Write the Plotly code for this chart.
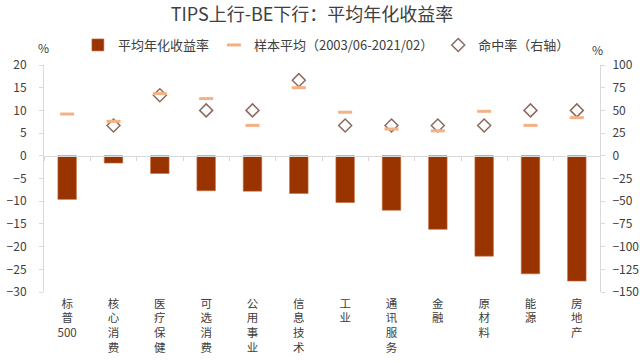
import plotly.graph_objects as go

categories = ["标普500", "核心消费", "医疗保健", "可选消费", "公用事业", "信息技术",
              "工业", "通讯服务", "金融", "原材料", "能源", "房地产"]
avg_return = [-9.6, -1.6, -3.9, -7.7, -7.8, -8.3, -10.3, -12.0, -16.2, -22.1, -26.0, -27.6]
sample_avg = [9.2, 7.6, 13.7, 12.6, 6.7, 15.0, 9.6, 5.9, 5.5, 9.8, 6.7, 8.4]
hit_rate = [None, 33.3, 66.7, 50.0, 50.0, 83.3, 33.3, 33.3, 33.3, 33.3, 50.0, 50.0]
left_ticks = list(range(-30, 21, 5))
right_ticks = list(range(-150, 101, 25))


def vertical(label):
    parts = []
    buf = ""
    for ch in label:
        if ch.isdigit():
            buf += ch
        else:
            if buf:
                parts.append(buf)
                buf = ""
            parts.append(ch)
    if buf:
        parts.append(buf)
    return "<br>".join(parts)


tick_text = [vertical(c) for c in categories]

FONT = "Noto Sans CJK SC, Noto Sans, sans-serif"
GRID = "#D9D9D9"
TXT = "#404040"

fig = go.Figure()
fig.add_trace(go.Bar(
    x=categories, y=avg_return, name="平均年化收益率",
    marker=dict(color="#993300", line=dict(color="#C8703F", width=0.6)),
    width=0.4, xaxis="x", yaxis="y",
))
fig.add_trace(go.Scatter(
    x=categories, y=sample_avg, name="样本平均（2003/06-2021/02）", mode="markers",
    marker=dict(symbol="line-ew", size=10, color="#F4B183",
                line=dict(color="#F4B183", width=3)),
    xaxis="x2", yaxis="y",
))
fig.add_trace(go.Scatter(
    x=categories, y=hit_rate, name="命中率（右轴）", mode="markers",
    marker=dict(symbol="diamond-open", size=10, color="#8C6A60",
                line=dict(color="#8C6A60", width=1.5)),
    xaxis="x", yaxis="y2",
))

fig.update_layout(
    width=640, height=363,
    margin=dict(l=44, r=40, t=65, b=71, autoexpand=False),
    paper_bgcolor="white", plot_bgcolor="white",
    font=dict(family=FONT, size=12, color=TXT),
    title=dict(text="TIPS上行-BE下行：平均年化收益率", x=0.4875, xref="container",
               xanchor="center", y=1 - 15 / 363, yref="container", yanchor="middle",
               font=dict(size=18, color=TXT, family=FONT)),
    showlegend=True,
    legend=dict(orientation="h", x=0.51, xref="container", xanchor="center",
                y=1 - 45 / 363, yref="container", yanchor="middle",
                font=dict(size=13, color=TXT), itemwidth=30,
                bgcolor="rgba(0,0,0,0)"),
    bargap=0.6,
    xaxis=dict(type="category", categoryorder="array", categoryarray=categories,
               range=[-0.5, 11.5], tickvals=categories, ticktext=tick_text,
               showline=False, ticks="", showgrid=False, zeroline=False,
               tickfont=dict(size=11.5, color=TXT), ticklabelstandoff=3,
               automargin=False),
    xaxis2=dict(type="category", categoryorder="array", categoryarray=categories,
                range=[-0.5, 11.5], overlaying="x", anchor="free", position=0.6,
                showline=True, linecolor=GRID, linewidth=1, ticks="outside",
                tickson="boundaries", ticklen=4, tickcolor=GRID,
                showticklabels=False, showgrid=False, zeroline=False,
                automargin=False),
    yaxis=dict(range=[-30, 20], tickvals=left_ticks, showline=True, linecolor=GRID,
               ticks="outside", ticklen=4, tickcolor=GRID, showgrid=False,
               zeroline=False, tickfont=dict(size=12, color=TXT),
               ticklabelstandoff=10, automargin=False),
    yaxis2=dict(range=[-150, 100], tickvals=right_ticks, overlaying="y", side="right",
                showline=True, linecolor=GRID, ticks="outside", ticklen=4,
                tickcolor=GRID, showgrid=False, zeroline=False,
                tickfont=dict(size=12, color=TXT), ticklabelstandoff=5,
                automargin=False),
    annotations=[
        dict(text="%", xref="paper", yref="paper", x=0, y=1, xanchor="center",
             yanchor="bottom", yshift=7, xshift=-1, showarrow=False,
             font=dict(size=12, color=TXT)),
        dict(text="%", xref="paper", yref="paper", x=1, y=1, xanchor="center",
             yanchor="bottom", yshift=5, xshift=-3, showarrow=False,
             font=dict(size=12, color=TXT)),
    ],
)

fig.write_html("out.html", config={"displayModeBar": False},
               post_script="document.body.style.margin='0';document.body.style.overflow='hidden';")
